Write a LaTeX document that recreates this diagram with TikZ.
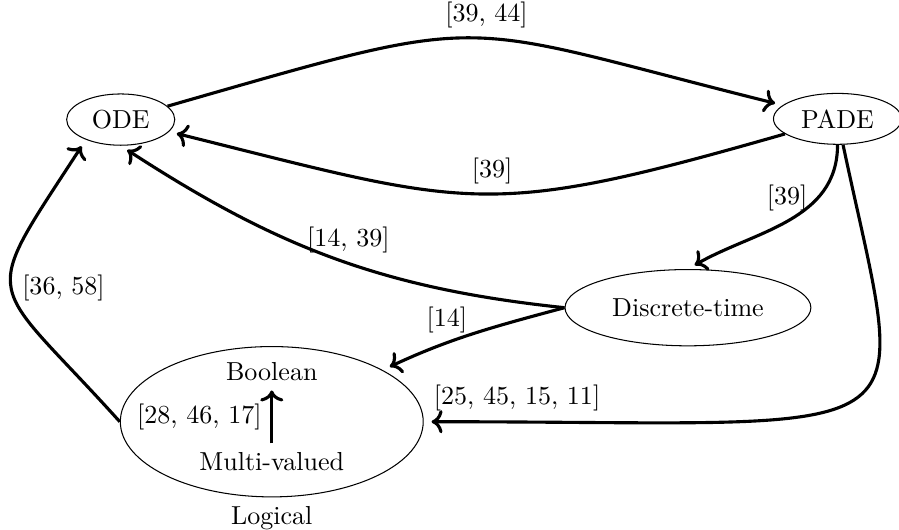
\documentclass[tikz,border=0pt]{standalone}
\usepackage{amsmath}
\usepackage{tikz}
\usetikzlibrary{shapes.geometric}
\usetikzlibrary{arrows.meta}

\begin{document}
\begin{tikzpicture}[
  state/.style={draw, ellipse},
  link/.style={->, very thick, shorten >=3pt}
]
\useasboundingbox (0,0) rectangle (12.14,7.155);

\node[state, minimum width=1.46cm, minimum height=0.69cm] (ODE) at (1.63,5.54) {ODE};
\node[state, minimum width=1.73cm, minimum height=0.675cm] (PADE) at (11.31,5.55) {PADE};
\node[state, minimum width=3.32cm, minimum height=1.03cm] (Discrete) at (9.29,3.00) {Discrete-time};
\node[state, minimum width=4.09cm, minimum height=2.03cm, label=below:Logical] (Logical) at (3.67,1.46) {};

\node (Bool) at (3.67,2.13) {Boolean};
\node (Multi) at (3.67,0.92) {Multi-valued};
\draw[->, very thick] (Multi) -- (Bool) node[midway, left] {[28, 46, 17]};

\draw[link] (ODE) to[out=16, in=166, looseness=1.45] node[pos=0.53, above] {[39, 44]} (PADE);
\draw[link] (PADE) to[out=-164, in=-14, looseness=1.3] node[pos=0.47, above] {[39]} (ODE);
\draw[link] (PADE.south) to[out=-90, in=30] node[pos=0.3, left] {[39]} (Discrete.north);
\draw[link] (Discrete.west) to[out=174, in=-33] node[pos=0.46, above] {[14, 39]} (ODE.south);
\draw[link] (Discrete.west) to[out=195, in=25] node[pos=0.65, above] {[14]} (Logical);
\draw[link] (PADE) to[out=-78, in=0, out distance=4.3cm, in distance=7cm] node[pos=1, above right] {[25, 45, 15, 11]} (Logical);
\draw[link] (Logical.west) to[out=132, in=237, looseness=1.8] node[midway, right] {[36, 58]} (ODE.210);
\end{tikzpicture}
\end{document}
